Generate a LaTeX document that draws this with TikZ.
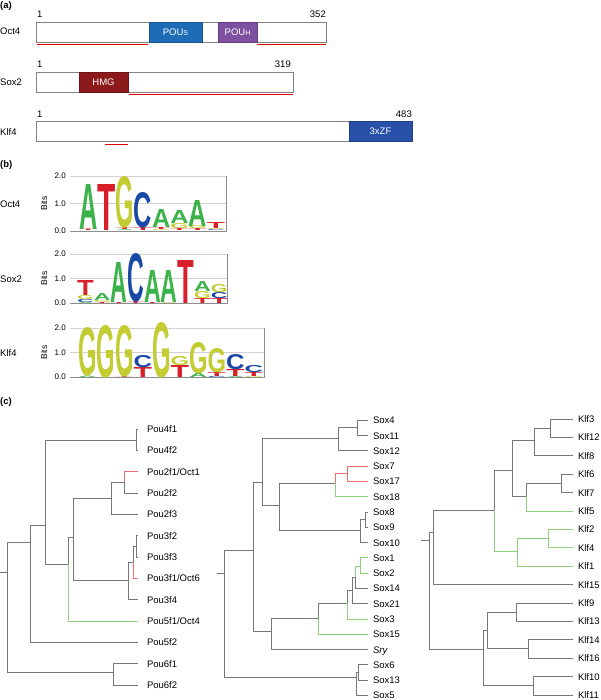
\documentclass[tikz,border=0pt]{standalone}
\usepackage{fontspec}
\setmainfont{Liberation Sans}
\usepackage{graphicx}
\usepackage{tikz}
\definecolor{clrA}{RGB}{60,178,74}
\definecolor{clrC}{RGB}{26,72,166}
\definecolor{clrG}{RGB}{196,204,52}
\definecolor{clrT}{RGB}{216,32,42}
\definecolor{pouS}{RGB}{30,108,182}
\definecolor{pouH}{RGB}{125,80,160}
\definecolor{hmg}{RGB}{140,26,26}
\definecolor{zf}{RGB}{40,80,168}
\definecolor{boxgrey}{RGB}{130,130,130}
\definecolor{treegrey}{RGB}{120,120,120}
\definecolor{treered}{RGB}{240,110,110}
\definecolor{treegreen}{RGB}{140,210,120}
\tikzset{
    lbl/.style={inner sep=0, font=\fontsize{9.5}{11}\selectfont}, % plain labels
    panel/.style={inner sep=0, anchor=west, font=\bfseries\fontsize{9.5}{11}\selectfont}, % (a) (b) (c)
    protein/.style={draw=boxgrey, line width=0.8pt, fill=white, minimum height=20pt, inner sep=0, outer sep=0},
    domain/.style={draw=#1!80!black, fill=#1, line width=0.6pt, text=white, minimum height=20pt, inner sep=0, outer sep=0, font=\fontsize{9.5}{11}\selectfont},
    underline/.style={draw=red!90!black, line width=1pt},
    grid/.style={draw=black!18, line width=0.6pt},
    axis/.style={draw=black!45, line width=0.6pt},
    tick/.style={inner sep=0, anchor=east, font=\fontsize{8}{9}\selectfont},
    logoletter/.style={inner sep=0, anchor=base west},
    leaf/.style={anchor=west, inner xsep=1pt, inner ysep=0, outer xsep=#1, outer ysep=0, text height=7pt, text depth=0pt, font=\fontsize{9.5}{11}\selectfont},
    leaf/.default=4pt,
    branch/.style={draw=treegrey, line width=0.8pt},
    hired/.style={draw=treered, line width=0.8pt},
    higreen/.style={draw=treegreen, line width=0.8pt}
}
% one column of a sequence logo: x, base, width, list of letter/height
\newcommand{\logocol}[4]{%
    \xdef\ybot{#2}%
    \foreach \l/\h in #4 {%
        \node[logoletter] at (#1, \ybot) {\resizebox{#3pt}{\h pt}{\raisebox{0pt}[\height][0pt]{\bfseries\color{clr\l}\l}}};
        \pgfmathsetmacro\ynew{\ybot-\h}\xdef\ybot{\ynew}%
    }%
}
\begin{document}
\begin{tikzpicture}[x=1pt, y=-1pt]
    \useasboundingbox (0,0) rectangle (600,700);

    % (a) domains
    \node[panel] (pa) at (0,6) {(a)};
    \node[protein, minimum width=290pt, anchor=north west] (oct4) at (36,22) {};
    \node[domain=pouS, minimum width=53pt, anchor=north west] (pous) at (149,22) {POU{\fontsize{7}{7}\selectfont S}};
    \node[domain=pouH, minimum width=39pt, anchor=north west] (pouh) at (218,22) {POU{\fontsize{7}{7}\selectfont H}};
    \node[lbl, anchor=west] (oct4lbl) at (0,31) {Oct4};
    \node[lbl, anchor=base west] (oct4a) at (37,17.5) {1};
    \node[lbl, anchor=base east] (oct4b) at (326,17.5) {352};
    \draw[underline] (37,45) -- (148,45);
    \draw[underline] (257,45) -- (326,45);

    \node[protein, minimum width=257pt, anchor=north west] (sox2) at (36,72) {};
    \node[domain=hmg, minimum width=49pt, anchor=north west] (hmgbox) at (79,72) {HMG};
    \node[lbl, anchor=west] (sox2lbl) at (0,82) {Sox2};
    \node[lbl, anchor=base west] (sox2a) at (37,67.5) {1};
    \node[lbl, anchor=base east] (sox2b) at (291,67.5) {319};
    \draw[underline] (129,95) -- (293,95);

    \node[protein, minimum width=376pt, anchor=north west] (klf4) at (36,121) {};
    \node[domain=zf, minimum width=63pt, anchor=north west] (zfbox) at (349,121) {3xZF};
    \node[lbl, anchor=west] (klf4lbl) at (0,132) {Klf4};
    \node[lbl, anchor=base west] (klf4a) at (37,117.5) {1};
    \node[lbl, anchor=base east] (klf4b) at (412,117.5) {483};
    \draw[underline] (105,145) -- (128,145);

    % (b) logos
    \node[panel] (pb) at (0,165) {(b)};
    \foreach \yb/\yt/\xr/\name in {231/176/226/Oct4, 303/254/227/Sox2, 377/328/264/Klf4} {
        \draw[grid] (70,\yt) -- (\xr,\yt);
        \draw[grid] (70,{(\yb+\yt)/2}) -- (\xr,{(\yb+\yt)/2});
        \draw[axis] (70,\yb) -- (\xr,\yb) -- (\xr,\yt);
        \node[tick] at (66,\yt) {2.0};
        \node[tick] at (66,{(\yb+\yt)/2}) {1.0};
        \node[tick] at (66,\yb) {0.0};
        \node[inner sep=0, rotate=90, font=\fontsize{8.5}{9}\selectfont] at (44,{(\yb+\yt)/2}) {Bits};
        \node[lbl, anchor=west] at (0,{(\yb+\yt)/2+1}) {\name};
    }
    \foreach \stack [count=\k from 0] in {{T/1.5,A/45},{T/46},{A/1,T/2,G/51},{T/3,C/35},{G/1,T/2,A/18},{T/2,G/5,A/13},{T/2,G/3,A/26},{C/1,G/1,T/6}}
        {\logocol{79+18.25*\k}{231}{18.25}{\stack}}
    \foreach \stack [count=\k from 0] in {{A/1,C/3,G/4,T/15},{T/1,G/2,A/7},{T/1,A/40},{T/2,C/48},{T/1,A/32},{G/1,A/32},{T/43},{T/5,G/7,A/10},{T/5,C/6,G/8}}
        {\logocol{77+16.7*\k}{303}{16.7}{\stack}}
    \foreach \stack [count=\k from 0] in {{A/1.5,G/48},{G/52},{T/1,G/51},{T/10,C/12},{G/55},{T/12,G/9},{A/4,G/31},{C/1,T/4,G/24},{A/1,T/7,C/15},{G/1,T/4,C/7}}
        {\logocol{78+18.5*\k}{377}{18.5}{\stack}}

    % (c) trees
    \node[panel] (pc) at (0,402) {(c)};

    % Pou
    \foreach \n/\t [count=\i from 0] in {pou4f1/Pou4f1, pou4f2/Pou4f2, pou2f1/{Pou2f1/Oct1}, pou2f2/Pou2f2, pou2f3/Pou2f3, pou3f2/Pou3f2, pou3f3/Pou3f3, pou3f1/{Pou3f1/Oct6}, pou3f4/Pou3f4, pou5f1/{Pou5f1/Oct4}, pou5f2/Pou5f2, pou6f1/Pou6f1, pou6f2/Pou6f2}
        \node[leaf=8pt] (\n) at (138,429+21.33*\i) {\t};
    \coordinate (p4) at (136,440);
    \coordinate (p2a) at (124,482);
    \coordinate (p2) at (111,498);
    \coordinate (p3a) at (136,546);
    \coordinate (p3b) at (133,562);
    \coordinate (p3) at (128,580);
    \coordinate (p23) at (73,537);
    \coordinate (p235) at (68,564);
    \coordinate (p4235) at (45,525);
    \coordinate (pA) at (30,542);
    \coordinate (p6) at (113,672);
    \coordinate (proot) at (7,572);
    \coordinate (pstub) at (0,572);
    \draw[branch] (proot) -- (pstub);
    \foreach \a/\b in {proot/pA, proot/p6, pA/p4235, p4235/p4, p4235/p235, p235/p23, p23/p2, p23/p3, p2/p2a, p3/p3b, p3b/p3a}
        \draw[branch] (\a) |- (\b);
    \foreach \a/\b in {p4/pou4f1, p4/pou4f2, p2a/pou2f2, p2/pou2f3, p3a/pou3f2, p3a/pou3f3, p3/pou3f4, pA/pou5f2, p6/pou6f1, p6/pou6f2}
        \draw[branch] (\a) |- (\b.west);
    \draw[hired] (p2a) |- (pou2f1.west);
    \draw[hired] (p3b) |- (pou3f1.west);
    \draw[higreen] (p235) |- (pou5f1.west);

    % Sox
    \foreach \n/\t [count=\i from 0] in {sox4/Sox4, sox11/Sox11, sox12/Sox12, sox7/Sox7, sox17/Sox17, sox18/Sox18, sox8/Sox8, sox9/Sox9, sox10/Sox10, sox1/Sox1, sox2/Sox2, sox14/Sox14, sox21/Sox21, sox3/Sox3, sox15/Sox15, sry/\textit{Sry}, sox6/Sox6, sox13/Sox13, sox5/Sox5}
        \node[leaf] (\n) at (368,420.3+15.28*\i) {\t};
    \coordinate (s411) at (357,427.5);
    \coordinate (s412) at (338,438);
    \coordinate (s717) at (347,473);
    \coordinate (s718) at (335,483);
    \coordinate (s89) at (365,519);
    \coordinate (s810) at (360,530);
    \coordinate (s7b) at (279,505);
    \coordinate (sA) at (262,482);
    \coordinate (s12) at (360,566);
    \coordinate (s1214) at (355,577);
    \coordinate (s1221) at (352,590);
    \coordinate (s123) at (347,603);
    \coordinate (s1215) at (318,618);
    \coordinate (sSry) at (271,631);
    \coordinate (sB) at (253,550);
    \coordinate (s613) at (358,672);
    \coordinate (s65) at (356,677);
    \coordinate (sroot) at (224,573);
    \coordinate (sstub) at (217,573);
    \draw[branch] (sroot) -- (sstub);
    \foreach \a/\b in {sroot/sB, sroot/s65, sB/sA, sB/sSry, sA/s412, sA/s7b, s412/s411, s7b/s718, s7b/s810, s810/s89, sSry/s1215, s1215/s123, s123/s1221, s1221/s1214, s65/s613}
        \draw[branch] (\a) |- (\b);
    \foreach \a/\b in {s411/sox4, s411/sox11, s412/sox12, s89/sox8, s89/sox9, s810/sox10, s1214/sox14, s1221/sox21, sSry/sry, s613/sox6, s613/sox13, s65/sox5}
        \draw[branch] (\a) |- (\b.west);
    \draw[hired] (s718) |- (s717);
    \draw[higreen] (s1214) |- (s12);
    \foreach \a/\b in {s717/sox7, s717/sox17}
        \draw[hired] (\a) |- (\b.west);
    \foreach \a/\b in {s718/sox18, s12/sox1, s12/sox2, s123/sox3, s1215/sox15}
        \draw[higreen] (\a) |- (\b.west);

    % Klf
    \foreach \n/\t [count=\i from 0] in {klf3/Klf3, klf12/Klf12, klf8/Klf8, klf6/Klf6, klf7/Klf7, klf5/Klf5, klf2/Klf2, klf4/Klf4, klf1/Klf1, klf15/Klf15, klf9/Klf9, klf13/Klf13, klf14/Klf14, klf16/Klf16, klf10/Klf10, klf11/Klf11}
        \node[leaf] (\n) at (573,419+18.4*\i) {\t};
    \coordinate (k312) at (550,428);
    \coordinate (k38) at (534,440);
    \coordinate (k67) at (561,483);
    \coordinate (k675) at (526,496);
    \coordinate (kC) at (512,470);
    \coordinate (k24) at (548,538);
    \coordinate (k241) at (517,551);
    \coordinate (kB) at (494,510);
    \coordinate (kA) at (433,532);
    \coordinate (k913) at (516,612);
    \coordinate (k1416) at (528,648);
    \coordinate (kD) at (487,630);
    \coordinate (k1011) at (533,685);
    \coordinate (kE) at (483,649);
    \coordinate (kroot) at (429,540);
    \coordinate (kstub) at (421,540);
    \draw[branch] (kroot) -- (kstub);
    \foreach \a/\b in {kroot/kA, kroot/kE, kA/kB, kB/kC, kC/k38, kC/k675, k38/k312, k675/k67, kE/kD, kE/k1011, kD/k913, kD/k1416}
        \draw[branch] (\a) |- (\b);
    \foreach \a/\b in {k312/klf3, k312/klf12, k38/klf8, k67/klf6, k67/klf7, kA/klf15, k913/klf9, k913/klf13, k1416/klf14, k1416/klf16, k1011/klf10, k1011/klf11}
        \draw[branch] (\a) |- (\b.west);
    \draw[higreen] (kB) |- (k241);
    \draw[higreen] (k241) |- (k24);
    \foreach \a/\b in {k675/klf5, k24/klf2, k24/klf4, k241/klf1}
        \draw[higreen] (\a) |- (\b.west);
\end{tikzpicture}
\end{document}
